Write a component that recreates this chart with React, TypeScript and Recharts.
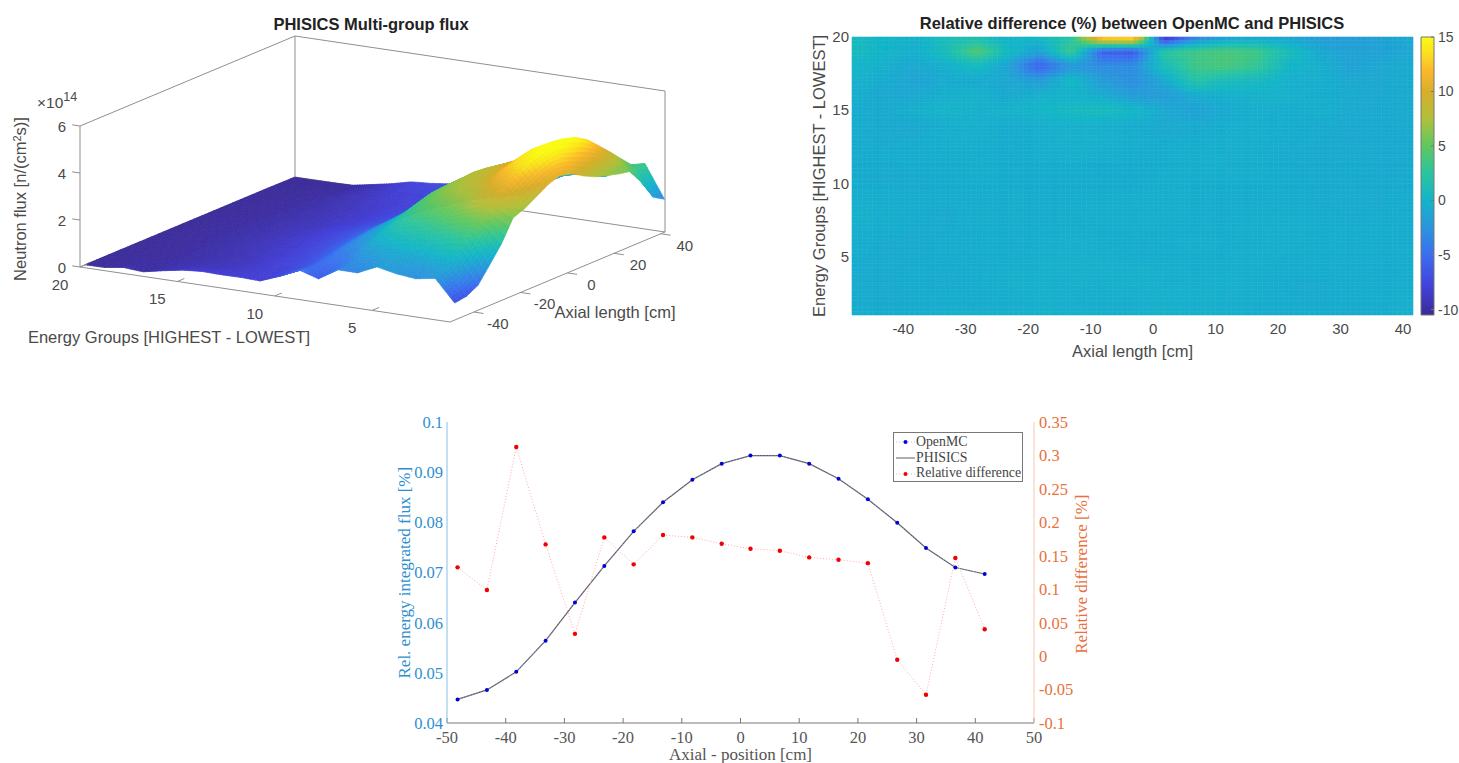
import {
  Bar,
  BarChart,
  ComposedChart,
  Legend,
  Line,
  Scatter,
  ScatterChart,
  XAxis,
  YAxis,
} from "recharts";

// ---- data ----
const axialCm = [-48.2, -43.2, -38.2, -33.2, -28.2, -23.2, -18.2, -13.2, -8.2, -3.2, 1.7, 6.7, 11.7, 16.7, 21.7, 26.7, 31.6, 36.6, 41.6];
const energyGroups = [1, 2, 3, 4, 5, 6, 7, 8, 9, 10, 11, 12, 13, 14, 15, 16, 17, 18, 19, 20];

// PHISICS flux [1e14 n/(cm2 s)], one row per energy group (1 first)
const surfaceFlux = [
  [0.72, 0.8, 1.06, 1.72, 2.4, 3.3, 3.5, 3.8, 4.1, 4.27, 4.15, 3.85, 3.6, 3.44, 3.3, 3.2, 2.55, 1.7, 1.4],
  [1.65, 1.8, 2.2, 2.77, 3.2, 3.65, 4.4, 4.7, 5.0, 5.2, 5.37, 5.3, 5.15, 4.85, 4.38, 3.9, 3.4, 2.9, 2.8],
  [1.51, 1.7, 2.1, 2.6, 3.05, 3.5, 3.95, 4.35, 4.65, 4.85, 4.95, 4.9, 4.7, 4.4, 4.0, 3.55, 3.05, 2.65, 2.6],
  [1.6, 1.7, 1.95, 2.4, 2.85, 3.2, 3.5, 3.8, 4.0, 4.15, 4.25, 4.25, 4.1, 3.9, 3.5, 3.1, 2.65, 2.25, 2.0],
  [1.77, 1.8, 1.95, 2.3, 2.65, 3.0, 3.3, 3.57, 3.73, 3.83, 3.9, 3.87, 3.8, 3.73, 3.35, 2.9, 2.45, 2.2, 2.0],
  [1.39, 1.55, 1.8, 2.15, 2.5, 2.85, 3.1, 3.3, 3.45, 3.55, 3.6, 3.55, 3.45, 3.3, 2.95, 2.55, 2.1, 1.95, 1.85],
  [1.4, 1.45, 1.6, 1.9, 2.2, 2.45, 2.65, 2.85, 3.0, 3.05, 3.05, 3.0, 2.9, 2.7, 2.4, 2.05, 1.7, 1.5, 1.4],
  [0.89, 1.0, 1.2, 1.45, 1.65, 1.85, 2.0, 2.1, 2.2, 2.25, 2.2, 2.15, 2.05, 1.9, 1.7, 1.4, 1.1, 0.95, 0.9],
  [1.15, 1.05, 1.1, 1.2, 1.35, 1.45, 1.55, 1.6, 1.65, 1.65, 1.6, 1.55, 1.45, 1.35, 1.2, 1.05, 0.9, 0.75, 0.7],
  [0.75, 0.7, 0.72, 0.78, 0.85, 0.92, 1.0, 1.05, 1.1, 1.1, 1.08, 1.05, 1.0, 0.95, 0.85, 0.78, 0.72, 0.68, 0.66],
  [0.43, 0.5, 0.52, 0.58, 0.62, 0.68, 0.72, 0.75, 0.78, 0.78, 0.75, 0.75, 0.7, 0.68, 0.65, 0.62, 0.6, 0.6, 0.6],
  [0.46, 0.46, 0.45, 0.48, 0.5, 0.52, 0.55, 0.58, 0.6, 0.6, 0.58, 0.56, 0.55, 0.55, 0.55, 0.55, 0.58, 0.62, 0.7],
  [0.45, 0.4, 0.36, 0.36, 0.38, 0.4, 0.42, 0.44, 0.45, 0.45, 0.44, 0.42, 0.42, 0.42, 0.44, 0.46, 0.5, 0.55, 0.6],
  [0.47, 0.36, 0.28, 0.26, 0.28, 0.3, 0.32, 0.33, 0.34, 0.34, 0.32, 0.32, 0.32, 0.34, 0.36, 0.4, 0.44, 0.48, 0.54],
  [0.4, 0.3, 0.22, 0.2, 0.2, 0.22, 0.24, 0.25, 0.25, 0.25, 0.24, 0.24, 0.24, 0.25, 0.26, 0.28, 0.3, 0.33, 0.34],
  [0.25, 0.2, 0.16, 0.14, 0.15, 0.16, 0.17, 0.18, 0.18, 0.18, 0.18, 0.18, 0.18, 0.18, 0.18, 0.19, 0.2, 0.2, 0.18],
  [0.08, 0.08, 0.08, 0.08, 0.09, 0.1, 0.1, 0.11, 0.11, 0.11, 0.11, 0.1, 0.1, 0.1, 0.1, 0.1, 0.08, 0.05, 0.03],
  [0.14, 0.08, 0.05, 0.05, 0.06, 0.06, 0.06, 0.07, 0.07, 0.07, 0.07, 0.06, 0.06, 0.06, 0.05, 0.05, 0.04, 0.02, 0.01],
  [0.02, 0.03, 0.03, 0.03, 0.03, 0.03, 0.04, 0.04, 0.04, 0.04, 0.04, 0.03, 0.03, 0.03, 0.03, 0.02, 0.02, 0.01, 0.0],
  [0.01, 0.01, 0.01, 0.01, 0.01, 0.01, 0.01, 0.01, 0.01, 0.01, 0.01, 0.01, 0.01, 0.01, 0.01, 0.01, 0.01, 0.0, 0.0],
];

// relative difference OpenMC / PHISICS [%], one row per energy group (1 first)
const relDiffMap = [
  [-0.5, -0.7, -0.6, -0.5, -0.4, -0.5, -0.4, -0.4, -0.5, -0.5, -0.4, -0.4, -0.5, -0.6, -0.7, -0.6, -0.8, -0.6, -0.4],
  [-0.7, -0.9, -0.7, -0.6, -0.7, -0.6, -0.4, -0.5, -0.6, -0.5, -0.4, -0.5, -0.5, -0.6, -0.7, -0.8, -0.7, -0.6, -0.5],
  [-0.8, -0.9, -0.7, -0.8, -0.7, -0.5, -0.4, -0.5, -0.5, -0.4, -0.5, -0.5, -0.4, -0.5, -0.8, -0.8, -0.7, -0.7, -0.6],
  [-0.8, -0.8, -0.7, -0.8, -0.7, -0.5, -0.5, -0.5, -0.4, -0.4, -0.5, -0.6, -0.5, -0.6, -0.7, -0.7, -0.6, -0.8, -0.7],
  [-0.7, -0.8, -0.8, -0.7, -0.7, -0.7, -0.5, -0.5, -0.5, -0.7, -0.7, -0.6, -0.6, -0.5, -0.6, -0.6, -0.7, -0.7, -0.6],
  [-0.6, -0.8, -0.8, -0.7, -0.6, -0.7, -0.6, -0.4, -0.6, -0.7, -0.6, -0.5, -0.6, -0.6, -0.5, -0.7, -0.6, -0.7, -0.7],
  [-0.5, -0.6, -0.8, -0.8, -0.6, -0.6, -0.7, -0.6, -0.6, -0.5, -0.6, -0.7, -0.6, -0.5, -0.5, -0.6, -0.7, -0.7, -0.7],
  [-0.2, -0.6, -0.7, -0.8, -0.6, -0.6, -0.7, -0.6, -0.5, -0.6, -0.5, -0.6, -0.7, -0.6, -0.6, -0.7, -0.8, -0.7, -0.7],
  [-0.6, -0.6, -0.6, -0.7, -0.6, -0.6, -0.7, -0.6, -0.6, -0.5, -0.5, -0.6, -0.7, -0.7, -0.6, -0.8, -0.8, -0.8, -0.7],
  [-0.7, -0.8, -0.9, -0.7, -0.6, -0.7, -0.7, -0.7, -0.7, -0.8, -0.5, -0.6, -0.6, -0.6, -0.7, -0.8, -0.8, -0.9, -0.7],
  [-0.7, -0.8, -0.7, -0.7, -0.5, -0.6, -0.7, -0.6, -0.8, -0.7, -0.6, -0.5, -0.5, -0.5, -0.7, -0.8, -0.7, -0.9, -0.8],
  [-0.8, -0.7, -0.7, -0.6, -0.6, -0.8, -0.5, -0.4, -0.5, -0.7, -0.6, -0.5, -0.5, -0.6, -0.8, -0.9, -0.8, -0.9, -0.9],
  [-0.7, -0.9, -0.8, -0.5, -0.5, -0.8, -0.6, -0.4, -0.4, -0.6, -0.8, -0.7, -0.5, -0.5, -0.7, -0.8, -1.0, -0.9, -0.9],
  [-0.6, -0.9, -1.0, -0.6, -0.4, -0.7, -0.5, -0.4, -0.5, -0.7, -0.9, -0.9, -0.6, -0.5, -0.7, -0.8, -0.9, -1.0, -0.8],
  [-0.7, -0.9, -0.4, -0.1, -0.5, -0.3, 0, 0.6, 0.8, 0.2, -1, -1.5, -0.8, -0.5, -0.7, -0.4, -0.9, -0.9, -0.7],
  [-0.5, -1, -1, -0.5, -0.3, -1, -0.3, -0.3, -0.7, -2, -2, -0.8, -0.5, -0.3, -0.3, -0.7, -0.8, -1, -0.8],
  [-0.3, -0.7, -1.3, -0.8, -0.8, -1, -2, 0.5, -2, -3, -1, 2.2, 1, 0.5, -0.5, -0.5, -1, -1, -0.7],
  [0, -0.5, -1, -0.5, 0.5, -1.5, -6, -2.5, -3, -3, 1, 3.5, 4, 3, 0, -0.5, -1.5, -1, -0.8],
  [0.8, 0, -0.5, 1, 4.5, 0.5, -1.5, 3.5, -6, -6.5, 2.5, 3.5, 4, 3.5, 1, -1, -1.5, -1.5, -1],
  [0.5, 0, -0.5, 1, 1, -0.5, 0.5, 2, 15, 15.5, -10, -4, -2, -1.5, -1.5, -2, -2, -1.5, -1],
];

// energy integrated profile along the core
const axialPosition = [-48.2, -43.2, -38.2, -33.2, -28.2, -23.2, -18.2, -13.2, -8.2, -3.2, 1.7, 6.7, 11.7, 16.7, 21.7, 26.7, 31.6, 36.6, 41.6];
const openmcFlux = [0.0447, 0.0466, 0.0502, 0.0564, 0.064, 0.0713, 0.0782, 0.084, 0.0885, 0.0917, 0.0933, 0.0933, 0.0917, 0.0887, 0.0846, 0.0799, 0.0749, 0.071, 0.0697];
const phisicsFlux = [0.0447, 0.0466, 0.0502, 0.0564, 0.064, 0.0713, 0.0782, 0.084, 0.0885, 0.0917, 0.0933, 0.0933, 0.0917, 0.0887, 0.0846, 0.0799, 0.0749, 0.071, 0.0697];
const relativeDiff = [0.1327, 0.0989, 0.3127, 0.167, 0.0333, 0.1775, 0.1372, 0.181, 0.1775, 0.168, 0.1605, 0.1576, 0.1476, 0.144, 0.139, -0.0055, -0.0577, 0.1466, 0.0402];

const fluxTicks = [0.04, 0.05, 0.06, 0.07, 0.08, 0.09, 0.1];
const diffTicks = [-0.1, -0.05, 0, 0.05, 0.1, 0.15, 0.2, 0.25, 0.3, 0.35];
const positionTicks = [-50, -40, -30, -20, -10, 0, 10, 20, 30, 40, 50];
const heatAxialTicks = [-40, -30, -20, -10, 0, 10, 20, 30, 40];
const heatGroupTicks = [5, 10, 15, 20];
const colorbarTicks = [-10, -5, 0, 5, 10, 15];
const surfaceGroupTicks = [20, 15, 10, 5];
const surfaceAxialTicks = [-40, -20, 0, 20, 40];
const surfaceFluxTicks = [0, 2, 4, 6];

const profileRows = axialPosition.map((x, i) => ({
  x,
  OpenMC: openmcFlux[i],
  PHISICS: phisicsFlux[i],
  "Relative difference": relativeDiff[i],
}));

// ---- colormap (parula as it appears on the colorbar) ----
const parulaStops: [number, string][] = [
  [0, "#3b2a98"],
  [0.1, "#4340d8"],
  [0.216, "#3a6ef0"],
  [0.314, "#2a95dd"],
  [0.412, "#12b5c8"],
  [0.51, "#2ac4a0"],
  [0.608, "#5ec860"],
  [0.706, "#b0c03a"],
  [0.804, "#d8ae2a"],
  [0.882, "#fdb82c"],
  [0.94, "#fbe020"],
  [1, "#f9fb15"],
];

function parula(t: number) {
  const f = Math.max(0, Math.min(1, t));
  let i = 0;
  while (i < parulaStops.length - 2 && f > parulaStops[i + 1][0]) i++;
  const [t0, c0] = parulaStops[i];
  const [t1, c1] = parulaStops[i + 1];
  const k = (f - t0) / (t1 - t0);
  const ch = (c: string, o: number) => parseInt(c.slice(o, o + 2), 16);
  const mix = (o: number) => Math.round(ch(c0, o) + (ch(c1, o) - ch(c0, o)) * k);
  return `rgb(${mix(1)},${mix(3)},${mix(5)})`;
}

// Shades a grid of nodes already placed by the chart's scales. Painted from the
// far corner to the near one, colours blended inside each cell like "shading interp".
function shadedGrid(points: { x: number; y: number }[], values: number[][], toColor: (v: number) => string, nu: number, nv: number, blur: number, id: string) {
  const rows = values.length;
  const cols = values[0].length;
  const polys = [];
  const at = (r: number, c: number) => points[r * cols + c];
  for (let r = rows - 2; r >= 0; r--) {
    for (let c = cols - 2; c >= 0; c--) {
      const p00 = at(r, c), p01 = at(r, c + 1), p10 = at(r + 1, c), p11 = at(r + 1, c + 1);
      const v00 = values[r][c], v01 = values[r][c + 1], v10 = values[r + 1][c], v11 = values[r + 1][c + 1];
      const blend = (a: number, b: number, d: number, e: number, s: number, t: number) =>
        (a * (1 - s) + b * s) * (1 - t) + (d * (1 - s) + e * s) * t;
      const pt = (s: number, t: number) =>
        `${blend(p00.x, p01.x, p10.x, p11.x, s, t).toFixed(1)},${blend(p00.y, p01.y, p10.y, p11.y, s, t).toFixed(1)}`;
      for (let j = nv - 1; j >= 0; j--) {
        for (let i = nu - 1; i >= 0; i--) {
          const s0 = i / nu, s1 = (i + 1) / nu, t0 = j / nv, t1 = (j + 1) / nv;
          const fill = toColor(blend(v00, v01, v10, v11, (s0 + s1) / 2, (t0 + t1) / 2));
          polys.push(
            <polygon
              key={`${r}-${c}-${j}-${i}`}
              points={`${pt(s0, t0)} ${pt(s1, t0)} ${pt(s1, t1)} ${pt(s0, t1)}`}
              fill={fill}
              stroke={fill}
              strokeWidth={0.6}
            />,
          );
        }
      }
    }
  }
  return (
    <g>
      <filter id={id} x="-5%" y="-5%" width="110%" height="110%">
        <feGaussianBlur stdDeviation={blur} />
      </filter>
      <g filter={`url(#${id})`}>{polys}</g>
    </g>
  );
}

// ---- 3D view: fixed axes projection onto the flat chart plane ----
const project = (a: number, g: number, z: number) => {
  const v = (a + 50.2) / 92;
  const u = (g - 1) / 19;
  return { x: 450 - 370 * u + 215 * v, y: 322 - 55 * u - 90 * v - 23.5 * z };
};

const A0 = -50.2;
const A1 = 41.8;
const boxEdges = [
  [project(A0, 20, 6), project(A1, 20, 6)],
  [project(A1, 20, 6), project(A1, 1, 6)],
  [project(A0, 20, 0), project(A0, 20, 6)],
  [project(A1, 20, 0), project(A1, 20, 6)],
  [project(A1, 1, 0), project(A1, 1, 6)],
  [project(A0, 20, 0), project(A1, 20, 0)],
  [project(A1, 20, 0), project(A1, 1, 0)],
];
const frontEdges = [
  [project(A0, 20, 0), project(A0, 1, 0)],
  [project(A0, 1, 0), project(A1, 1, 0)],
  ...surfaceFluxTicks.map((z) => [project(A0, 20, z), project(A0, 20.4, z)]),
  ...surfaceGroupTicks.map((g) => [project(A0, g, 0), project(A0 + 3, g, 0)]),
  ...surfaceAxialTicks.map((a) => [project(a, 1, 0), project(a, 0.5, 0)]),
];

const surfaceNodes = energyGroups.flatMap((g, r) => axialCm.map((a, c) => project(a, g, surfaceFlux[r][c])));
const heatNodes = energyGroups.flatMap((g) => axialCm.map((a) => ({ x: a, y: g })));

const noDot = () => null;
const segments = (color: string) => (props: any) => {
  const pts = props.points as { x: number; y: number }[];
  const lines = [];
  for (let i = 0; i + 1 < pts.length; i += 2) {
    lines.push(<line key={i} x1={pts[i].x} y1={pts[i].y} x2={pts[i + 1].x} y2={pts[i + 1].y} stroke={color} strokeWidth={1} />);
  }
  return <g>{lines}</g>;
};

const SANS = "'Liberation Sans', Arial, sans-serif";
const SERIF = "'Liberation Serif', 'Times New Roman', serif";
const GREY = "#4a4a4a";
const BLUE_AXIS = "#2e8fd0";
const ORANGE_AXIS = "#e8703a";

function SurfacePanel() {
  const tickText = { fontFamily: SANS, fontSize: 15, fill: GREY };
  return (
    <div style={{ position: "absolute", left: 0, top: 0 }}>
      <ScatterChart width={720} height={370} margin={{ top: 0, right: 0, bottom: 0, left: 0 }}>
        <XAxis dataKey="x" type="number" domain={[0, 720]} hide />
        <YAxis dataKey="y" type="number" domain={[0, 370]} reversed hide />
        <Scatter data={boxEdges.flat()} shape={noDot} line={segments("#8f8f8f")} isAnimationActive={false} />
        <Scatter
          data={surfaceNodes}
          shape={noDot}
          line={(props: any) => shadedGrid(props.points, surfaceFlux, (z) => parula(z / 5.1), 3, 8, 0.6, "surfSoft")}
          isAnimationActive={false}
        />
        <Scatter data={frontEdges.flat()} shape={noDot} line={segments("#8f8f8f")} isAnimationActive={false} />
        <text x={371} y={30} textAnchor="middle" fontFamily={SANS} fontSize={16.5} fontWeight="bold" fill="#222">
          PHISICS Multi-group flux
        </text>
        <text x={37} y={108} fontFamily={SANS} fontSize={15.5} fill={GREY}>
          ×10<tspan dy={-7} fontSize={12.5}>14</tspan>
        </text>
        {surfaceFluxTicks.map((z) => (
          <text key={z} x={66} y={project(A0, 20, z).y + 6} textAnchor="end" {...tickText}>{z}</text>
        ))}
        {surfaceGroupTicks.map((g) => (
          <text key={g} x={project(A0, g, 0).x - 20} y={project(A0, g, 0).y + 23} textAnchor="middle" {...tickText}>{g}</text>
        ))}
        {surfaceAxialTicks.map((a) => (
          <text key={a} x={project(a, 1, 0).x + 24} y={project(a, 1, 0).y + 17} textAnchor="middle" {...tickText}>{a}</text>
        ))}
        <text transform="rotate(-90 26 199)" x={26} y={199} textAnchor="middle" {...tickText} fontSize={16.5}>
          Neutron flux [n/(cm<tspan dy={-5} fontSize={11}>2</tspan><tspan dy={5}>s)]</tspan>
        </text>
        <text x={169} y={343} textAnchor="middle" {...tickText} fontSize={16.5}>Energy Groups [HIGHEST - LOWEST]</text>
        <text x={615} y={318} textAnchor="middle" {...tickText} fontSize={16.5}>Axial length [cm]</text>
      </ScatterChart>
    </div>
  );
}

function HeatPanel() {
  const tick = { fontFamily: SANS, fontSize: 15, fill: GREY };
  return (
    <div style={{ position: "absolute", left: 790, top: 0 }}>
      <ScatterChart width={660} height={370} margin={{ top: 37, right: 37, bottom: 25, left: 22 }}>
        <XAxis
          dataKey="x"
          type="number"
          domain={[-48.2, 41.6]}
          ticks={heatAxialTicks}
          interval={0}
          axisLine={false}
          tickLine={false}
          tickSize={0}
          tickMargin={8}
          height={30}
          tick={tick}
          label={{ value: "Axial length [cm]", position: "insideBottom", offset: -12, fontFamily: SANS, fontSize: 16.5, fill: GREY }}
        />
        <YAxis
          dataKey="y"
          type="number"
          domain={[1, 20]}
          ticks={heatGroupTicks}
          interval={0}
          axisLine={false}
          tickLine={false}
          tickSize={0}
          tickMargin={3}
          width={40}
          tick={tick}
          label={{ value: "Energy Groups [HIGHEST - LOWEST]", angle: -90, position: "insideLeft", offset: 7, dy: 141, fontFamily: SANS, fontSize: 16.5, fill: GREY }}
        />
        <Scatter
          data={heatNodes}
          shape={noDot}
          line={(props: any) => shadedGrid(props.points, relDiffMap, (v) => parula((v + 10.5) / 25.5), 6, 4, 0.7, "heatSoft")}
          isAnimationActive={false}
        />
        <text x={342} y={29} textAnchor="middle" fontFamily={SANS} fontSize={16.5} fontWeight="bold" fill="#222">
          Relative difference (%) between OpenMC and PHISICS
        </text>
      </ScatterChart>
    </div>
  );
}

const colorbarRows = [{ name: "diff", range: [-10.5, 15] }];

function Colorbar() {
  return (
    <div style={{ position: "absolute", left: 1400, top: 0 }}>
      <BarChart width={59} height={330} data={colorbarRows} barCategoryGap={0} margin={{ top: 37, right: 0, bottom: 15, left: 21 }}>
        <defs>
          <linearGradient id="parulaBar" x1="0" y1="1" x2="0" y2="0">
            {parulaStops.map(([t, c]) => (
              <stop key={t} offset={t} stopColor={c} />
            ))}
          </linearGradient>
        </defs>
        <XAxis dataKey="name" hide />
        <YAxis
          orientation="right"
          type="number"
          domain={[-10.5, 15]}
          ticks={colorbarTicks}
          interval={0}
          axisLine={false}
          tickSize={-3}
          tickMargin={7}
          width={25}
          stroke="#777"
          tick={{ fontFamily: SANS, fontSize: 14, fill: GREY }}
        />
        <Bar dataKey="range" fill="url(#parulaBar)" stroke="#777" strokeWidth={1} isAnimationActive={false} />
      </BarChart>
    </div>
  );
}

const legendColors: Record<string, { line: string; dash?: string; dot?: string }> = {
  OpenMC: { line: "#b9b9ff", dash: "1 2", dot: "#0000d8" },
  PHISICS: { line: "#5a5a64" },
  "Relative difference": { line: "#ffb0b0", dash: "1 2", dot: "#f00000" },
};

function ProfileLegend({ payload }: any) {
  return (
    <div style={{ border: "1px solid #777", background: "#fff", boxSizing: "border-box", width: 130, height: 50, padding: "1px 0 0 0", fontFamily: SERIF, fontSize: 13.8, color: "#444", lineHeight: "15.7px", whiteSpace: "nowrap" }}>
      {payload.map((item: any) => {
        const c = legendColors[item.value];
        return (
          <div key={item.value} style={{ display: "flex", alignItems: "center", height: 15.7 }}>
            <svg width={22} height={15} style={{ flex: "none" }}>
              <line x1={2} x2={21} y1={8} y2={8} stroke={c.line} strokeDasharray={c.dash} />
              {c.dot && <circle cx={11.5} cy={8} r={2} fill={c.dot} />}
            </svg>
            <span>{item.value}</span>
          </div>
        );
      })}
    </div>
  );
}

function ProfilePanel() {
  return (
    <div style={{ position: "absolute", left: 380, top: 405 }}>
      <ComposedChart width={720} height={358} data={profileRows} margin={{ top: 17, right: 0, bottom: 18, left: 7 }}>
        <XAxis
          xAxisId="bottom"
          dataKey="x"
          type="number"
          domain={[-50, 50]}
          ticks={positionTicks}
          interval={0}
          height={22}
          stroke="#777"
          tickSize={-5}
          tickMargin={13}
          tick={{ fontFamily: SERIF, fontSize: 16.5, fill: "#555" }}
          label={{ value: "Axial - position [cm]", position: "insideBottom", offset: -15, fontFamily: SERIF, fontSize: 17, fill: "#555" }}
        />
        <XAxis
          xAxisId="top"
          orientation="top"
          dataKey="x"
          type="number"
          domain={[-50, 50]}
          ticks={positionTicks}
          interval={0}
          height={0}
          stroke="#777"
          tickSize={-5}
          tickFormatter={() => ""}
        />
        <YAxis
          yAxisId="flux"
          type="number"
          domain={[0.04, 0.1]}
          ticks={fluxTicks}
          interval={0}
          width={60}
          stroke="#85bfe8"
          tickLine={false}
          tickSize={0}
          tickMargin={4}
          tick={{ fontFamily: SERIF, fontSize: 16.5, fill: BLUE_AXIS }}
          label={{ value: "Rel. energy integrated flux [%]", angle: -90, position: "insideLeft", offset: 17, dy: 106, fontFamily: SERIF, fontSize: 17, fill: BLUE_AXIS }}
        />
        <YAxis
          yAxisId="diff"
          orientation="right"
          type="number"
          domain={[-0.1, 0.35]}
          ticks={diffTicks}
          interval={0}
          width={66}
          stroke="#f5c9b0"
          tickLine={false}
          tickSize={0}
          tickMargin={5}
          tick={{ fontFamily: SERIF, fontSize: 16.5, fill: ORANGE_AXIS }}
          label={{ value: "Relative difference [%]", angle: -90, position: "insideRight", offset: 19, dy: -78, fontFamily: SERIF, fontSize: 17, fill: ORANGE_AXIS }}
        />
        <Line xAxisId="bottom" yAxisId="flux" dataKey="PHISICS" stroke="#5a5a64" strokeWidth={1.2} dot={false} isAnimationActive={false} legendType="line" />
        <Line xAxisId="bottom" yAxisId="flux" dataKey="OpenMC" stroke="#b9b9ff" strokeWidth={0.6} strokeDasharray="1 2" dot={{ r: 2, fill: "#0000d8", stroke: "none" }} isAnimationActive={false} />
        <Line xAxisId="bottom" yAxisId="diff" dataKey="Relative difference" stroke="#ffaaaa" strokeWidth={1} strokeDasharray="1 2" dot={{ r: 2.2, fill: "#f00000", stroke: "none" }} isAnimationActive={false} />
        <Legend
          layout="horizontal"
          verticalAlign="middle"
          align="center"
          itemSorter={(item: any) => ["OpenMC", "PHISICS", "Relative difference"].indexOf(item.value)}
          content={<ProfileLegend />}
          wrapperStyle={{ left: 513, top: 27, width: 130, right: "auto", bottom: "auto" }}
        />
      </ComposedChart>
    </div>
  );
}

export default function App() {
  return (
    <div style={{ position: "absolute", left: 0, top: 0, width: 1459, height: 763, background: "#fff", overflow: "hidden" }}>
      <SurfacePanel />
      <HeatPanel />
      <Colorbar />
      <ProfilePanel />
    </div>
  );
}
